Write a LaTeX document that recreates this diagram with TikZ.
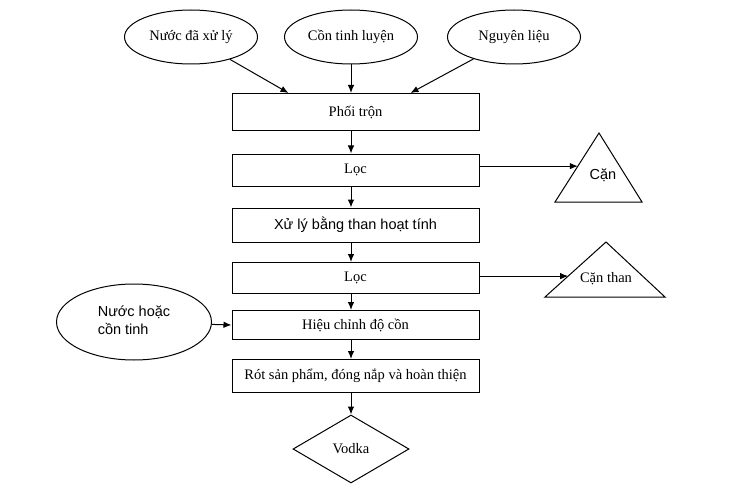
\documentclass[tikz,border=0pt]{standalone}
\usepackage{fontspec}
\setmainfont{Liberation Serif}
\newfontfamily\arialfont{Liberation Sans}
\usetikzlibrary{shapes.geometric}
\usetikzlibrary{calc}
\usetikzlibrary{arrows.meta}
\tikzset{   stage/.style = {rectangle, draw = black, line width = 1pt, fill = white, minimum width = 247pt, inner sep = 0pt},
            source/.style = {ellipse, draw = black, line width = 1pt, minimum width = 133pt, minimum height = 54pt, inner sep = 0pt},
            residue/.style = {draw = black, line width = 1pt},
            flow/.style = {-{Latex[length=8pt, width=6.5pt]}, line width = 1pt}}

\begin{document}
\begin{tikzpicture}[x=1pt, y=-1pt, font=\fontsize{14.5}{17.5}\selectfont]
                        \useasboundingbox (0,0) rectangle (740,503);
                        \coordinate (axis) at (351,0);
                        \node[source] (nuoc) at (191,37) {Nước đã xử lý};
                        \node[source] (con) at (351,37) {Cồn tinh luyện};
                        \node[source] (nguyenlieu) at (514,37) {Nguyên liệu};
                        \node[source, minimum width = 155pt, minimum height = 76pt] (bosung) at (134,322) {\arialfont\begin{tabular}{@{}l@{}}Nước hoặc\\cồn tinh\end{tabular}};
                        \node[stage, minimum height = 37pt] (phoitron) at (355.5,112) {Phối trộn};
                        \node[stage, minimum height = 32pt] (loc1) at (355.5,170) {Lọc};
                        \node[stage, minimum height = 34pt] (than) at (355.5,225) {\arialfont Xử lý bằng than hoạt tính};
                        \node[stage, minimum height = 31pt] (loc2) at (355.5,278) {Lọc};
                        \node[stage, minimum height = 29pt] (hieuchinh) at (355.5,325) {Hiệu chỉnh độ cồn};
                        \node[stage, minimum height = 33pt] (rot) at (355.5,376) {Rót sản phẩm, đóng nắp và hoàn thiện};
                        \node[diamond, draw = black, line width = 1pt, minimum width = 116pt, minimum height = 68pt, inner sep = 0pt] (vodka) at (351,449) {Vodka};
                        \begin{scope}[residue]
                        \draw (555,202) coordinate (canL) -- (599,133) coordinate (canT) -- (642,202) -- cycle;
                        \draw (545,297) coordinate (canthanL) -- (606,242) coordinate (canthanT) -- (665,297) -- cycle;
                        \end{scope}
                        \node (can) at (603,175) {\arialfont Cặn};
                        \node (canthan) at (606,279) {Cặn than};
                        \coordinate (canhit) at ($(canL)!0.52!(canT)$);
                        \coordinate (canthanhit) at ($(canthanL)!0.38!(canthanT)$);
                        \begin{scope}[flow]
                        \draw (nuoc) -- ([xshift=-67pt]phoitron.north);
                        \draw (con) -- (phoitron.north -| axis);
                        \draw (nguyenlieu) -- ([xshift=55pt]phoitron.north);
                        \draw (phoitron.south -| axis) -- (loc1.north -| axis);
                        \draw (loc1.south -| axis) -- (than.north -| axis);
                        \draw (than.south -| axis) -- (loc2.north -| axis);
                        \draw (loc2.south -| axis) -- (hieuchinh.north -| axis);
                        \draw (hieuchinh.south -| axis) -- (rot.north -| axis);
                        \draw (rot.south -| axis) -- (vodka.north);
                        \draw (loc1.east |- canhit) -- (canhit);
                        \draw (loc2.east |- canthanhit) -- (canthanhit);
                        \draw (bosung) -- (hieuchinh.west);
                        \end{scope}
\end{tikzpicture}
\end{document}
